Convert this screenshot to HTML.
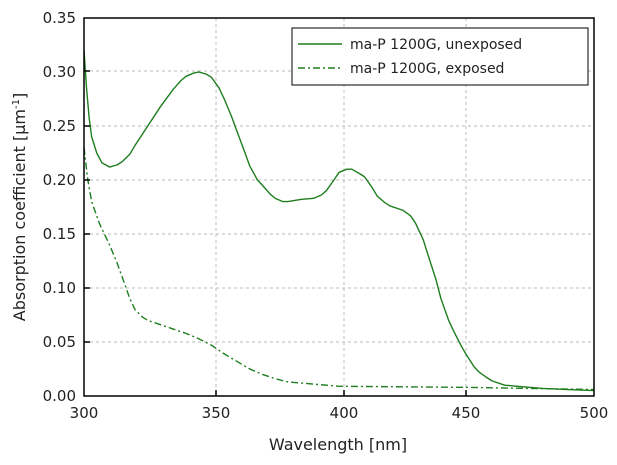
<!DOCTYPE html>
<html><head><style>body{margin:0;background:#fff}svg{display:block;font-family:"DejaVu Sans","Liberation Sans",sans-serif}</style></head><body>
<svg width="617" height="465" xmlns="http://www.w3.org/2000/svg">
<g stroke="#bbb" stroke-dasharray="3,3" stroke-width="1">
<line x1="216" y1="18" x2="216" y2="396"/><line x1="344" y1="18" x2="344" y2="396"/><line x1="466" y1="18" x2="466" y2="396"/>
<line x1="84" y1="71" x2="594" y2="71"/><line x1="84" y1="126" x2="594" y2="126"/><line x1="84" y1="180" x2="594" y2="180"/><line x1="84" y1="234" x2="594" y2="234"/><line x1="84" y1="288" x2="594" y2="288"/><line x1="84" y1="342" x2="594" y2="342"/>
</g>
<g transform="translate(84,396) scale(2.55,-1080)" fill="none" stroke="#1e7e1e" stroke-linejoin="round">
<polyline vector-effect="non-scaling-stroke" stroke-width="1.4" points="0,0.32 1,0.285 2,0.258 3,0.24 5,0.225 7,0.216 10,0.212 13,0.214 15,0.217 18,0.224 20,0.232 25,0.25 30,0.268 35,0.284 38,0.292 40,0.296 43,0.299 45,0.3 48,0.298 50,0.295 53,0.285 55,0.275 58,0.258 60,0.245 63,0.226 65,0.213 68,0.2 70,0.195 73,0.187 75,0.183 78,0.18 80,0.18 85,0.182 90,0.183 93,0.186 95,0.19 98,0.2 100,0.207 103,0.21 105,0.21 108,0.206 110,0.203 113,0.193 115,0.185 118,0.179 120,0.176 125,0.172 128,0.167 130,0.16 133,0.145 135,0.13 138,0.108 140,0.09 143,0.07 145,0.06 148,0.046 150,0.038 153,0.027 155,0.022 158,0.017 160,0.014 165,0.01 170,0.009 180,0.007 190,0.006 200,0.005"/>
<polyline vector-effect="non-scaling-stroke" stroke-width="1.4" stroke-dasharray="7,3,2,3" points="0,0.23 1.5,0.2 3,0.18 6,0.16 10,0.14 13,0.123 15,0.11 18,0.09 20,0.08 23,0.073 25,0.07 30,0.066 35,0.062 40,0.058 45,0.053 50,0.047 55,0.039 60,0.032 65,0.025 70,0.02 75,0.016 80,0.013 90,0.011 100,0.009 150,0.008 200,0.006"/>
</g>
<rect x="84" y="18" width="510" height="378" fill="none" stroke="#000" stroke-width="1.5"/>
<g stroke="#000" stroke-width="1.5">
<line x1="84" y1="71" x2="90" y2="71"/><line x1="84" y1="126" x2="90" y2="126"/><line x1="84" y1="180" x2="90" y2="180"/><line x1="84" y1="234" x2="90" y2="234"/><line x1="84" y1="288" x2="90" y2="288"/><line x1="84" y1="342" x2="90" y2="342"/>
<line x1="216" y1="396" x2="216" y2="390"/><line x1="344" y1="396" x2="344" y2="390"/><line x1="466" y1="396" x2="466" y2="390"/>
</g>
<rect x="292" y="28" width="296" height="57" fill="#fff" stroke="#000" stroke-width="1"/>
<line x1="298" y1="44" x2="342" y2="44" stroke="#1e7e1e" stroke-width="1.4"/>
<line x1="298" y1="68" x2="342" y2="68" stroke="#1e7e1e" stroke-width="1.4" stroke-dasharray="7,3,2,3"/>
<g font-size="14" fill="#222">
<text x="350" y="49">ma-P 1200G, unexposed</text>
<text x="350" y="73">ma-P 1200G, exposed</text>
</g>
<g font-size="15" fill="#222" text-anchor="end">
<text x="76" y="23">0.35</text><text x="76" y="77">0.30</text><text x="76" y="131">0.25</text><text x="76" y="185">0.20</text><text x="76" y="239">0.15</text><text x="76" y="293">0.10</text><text x="76" y="347">0.05</text><text x="76" y="401">0.00</text>
</g>
<g font-size="15" fill="#222" text-anchor="middle">
<text x="84" y="418">300</text><text x="216" y="418">350</text><text x="344" y="418">400</text><text x="466" y="418">450</text><text x="594" y="418">500</text>
<text x="338" y="450" font-size="16">Wavelength [nm]</text>
<text transform="translate(25,207) rotate(-90)" font-size="16">Absorption coefficient [μm<tspan dy="-6" font-size="10">-1</tspan><tspan dy="6">]</tspan></text>
</g>
</svg>
</body></html>
